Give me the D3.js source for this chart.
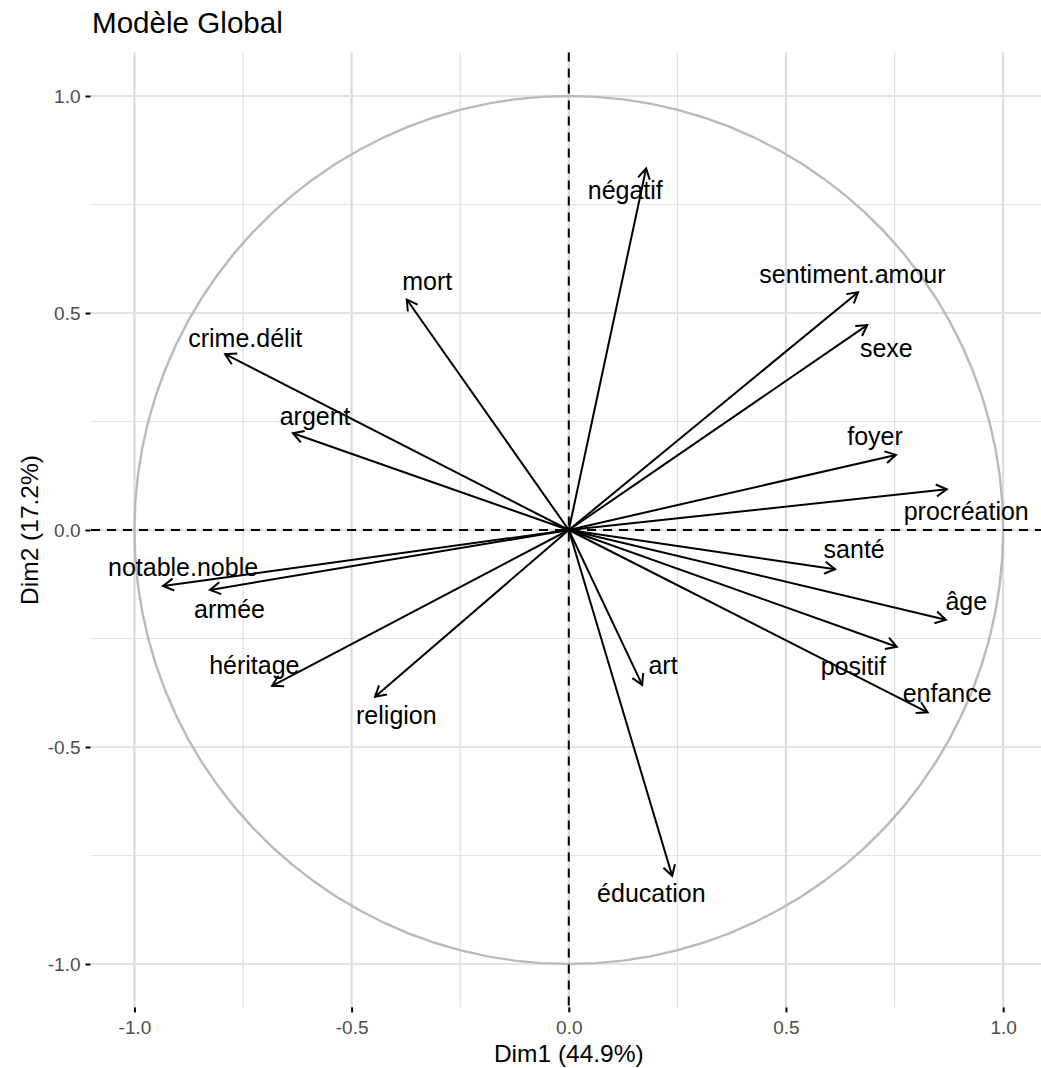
<!DOCTYPE html>
<html>
<head>
<meta charset="utf-8">
<script src="https://cdn.jsdelivr.net/npm/d3@7"></script>
<style>
  html, body { margin: 0; padding: 0; background: #fff; }
  svg { display: block; font-family: "Liberation Sans", Arial, Helvetica, sans-serif; }
</style>
</head>
<body>
<script>
// ---- data ----
const variables = ["négatif","mort","sentiment.amour","sexe","crime.délit","argent","foyer","procréation",
  "notable.noble","armée","santé","âge","positif","enfance","héritage","religion","art","éducation"];
const dim1 = [0.178,-0.373,0.666,0.687,-0.791,-0.635,0.753,0.870,
  -0.934,-0.826,0.613,0.868,0.755,0.826,-0.683,-0.446,0.169,0.238];
const dim2 = [0.833,0.531,0.548,0.472,0.405,0.223,0.173,0.0937,
  -0.129,-0.138,-0.0905,-0.207,-0.269,-0.420,-0.359,-0.384,-0.357,-0.797];
// repelled label anchor (data units)
const labelX = [0.130,-0.326,0.653,0.731,-0.745,-0.584,0.705,0.915,
  -0.888,-0.781,0.657,0.915,0.655,0.871,-0.724,-0.397,0.217,0.190];
const labelY = [0.783,0.574,0.589,0.418,0.441,0.262,0.216,0.043,
  -0.086,-0.183,-0.045,-0.164,-0.314,-0.375,-0.311,-0.427,-0.311,-0.836];
const tickValues = [-1.0,-0.5,0.0,0.5,1.0];
const minorValues = [-0.75,-0.25,0.25,0.75];
const title = "Modèle Global";
const xTitle = "Dim1 (44.9%)";
const yTitle = "Dim2 (17.2%)";

// ---- layout ----
const W = 1041, H = 1068;
const panel = {left: 91, right: 1046.6, top: 52.6, bottom: 1007.4};
const x = d3.scaleLinear().domain([-1.1, 1.1]).range([panel.left, panel.right]);
const y = d3.scaleLinear().domain([-1.1, 1.1]).range([panel.bottom, panel.top]);

const svg = d3.select("body").append("svg").attr("width", W).attr("height", H);
svg.append("rect").attr("width", W).attr("height", H).attr("fill", "#fff");

const g = svg.append("g");

// grid
const grid = g.append("g");
grid.selectAll(".vmin").data(minorValues).join("line")
  .attr("x1", d => x(d)).attr("x2", d => x(d)).attr("y1", panel.top).attr("y2", panel.bottom)
  .attr("stroke", "#dedede").attr("stroke-width", 1.2);
grid.selectAll(".hmin").data(minorValues).join("line")
  .attr("y1", d => y(d)).attr("y2", d => y(d)).attr("x1", panel.left).attr("x2", panel.right)
  .attr("stroke", "#e3e3e3").attr("stroke-width", 1.2);
grid.selectAll(".vmaj").data(tickValues).join("line")
  .attr("x1", d => x(d)).attr("x2", d => x(d)).attr("y1", panel.top).attr("y2", panel.bottom)
  .attr("stroke", "#dcdcdc").attr("stroke-width", 2.2);
grid.selectAll(".hmaj").data(tickValues).join("line")
  .attr("y1", d => y(d)).attr("y2", d => y(d)).attr("x1", panel.left).attr("x2", panel.right)
  .attr("stroke", "#e3e3e3").attr("stroke-width", 2.2);

// circle
const circ = d3.range(0, 101).map(i => {
  const t = 2 * Math.PI * i / 100;
  return [Math.cos(t), Math.sin(t)];
});
g.append("path")
  .attr("d", d3.line().x(d => x(d[0])).y(d => y(d[1]))(circ))
  .attr("fill", "none").attr("stroke", "#bababa").attr("stroke-width", 2.4);

// dashed axes
g.append("line").attr("x1", panel.left).attr("x2", panel.right).attr("y1", y(0)).attr("y2", y(0))
  .attr("stroke", "#000").attr("stroke-width", 2).attr("stroke-dasharray", "9,7");
g.append("line").attr("x1", x(0)).attr("x2", x(0)).attr("y1", panel.top).attr("y2", panel.bottom)
  .attr("stroke", "#000").attr("stroke-width", 2).attr("stroke-dasharray", "9,7");

// arrows
const arrows = g.append("g");
variables.forEach((v, i) => {
  const x0 = x(0), y0 = y(0), x1 = x(dim1[i]), y1 = y(dim2[i]);
  const ang = Math.atan2(y1 - y0, x1 - x0);
  const L = 12, a = Math.PI / 6;
  const p1 = [x1 - L * Math.cos(ang - a), y1 - L * Math.sin(ang - a)];
  const p2 = [x1 - L * Math.cos(ang + a), y1 - L * Math.sin(ang + a)];
  arrows.append("line").attr("x1", x0).attr("y1", y0).attr("x2", x1).attr("y2", y1)
    .attr("stroke", "#000").attr("stroke-width", 2);
  arrows.append("path").attr("d", `M${p1[0]},${p1[1]}L${x1},${y1}L${p2[0]},${p2[1]}`)
    .attr("fill", "none").attr("stroke", "#000").attr("stroke-width", 2)
    .attr("stroke-linejoin", "miter").attr("stroke-linecap", "butt");
});

// labels
const fs = 25;
g.append("g").selectAll("text").data(variables).join("text")
  .attr("x", (d, i) => x(labelX[i]))
  .attr("y", (d, i) => y(labelY[i]) + 0.35 * fs)
  .attr("text-anchor", "middle")
  .attr("font-size", fs).attr("fill", "#000")
  .text(d => d);

// axes
const xAxis = d3.axisBottom(x).tickValues(tickValues).tickFormat(d3.format(".1f")).tickSize(5).tickPadding(8);
const yAxis = d3.axisLeft(y).tickValues(tickValues).tickFormat(d3.format(".1f")).tickSize(5).tickPadding(5);
const ax = svg.append("g").attr("transform", `translate(0,${panel.bottom})`).call(xAxis);
const ay = svg.append("g").attr("transform", `translate(${panel.left - 0.5},0)`).call(yAxis);
[ax, ay].forEach(a => {
  a.select(".domain").remove();
  a.selectAll(".tick line").attr("stroke", "#000").attr("stroke-width", 2);
  a.selectAll(".tick text").attr("fill", "#4d4d4d").attr("font-size", 19)
    .attr("font-family", "\"Liberation Sans\", Arial, sans-serif")
    .text(d => d3.format(".1f")(d).replace("−", "-"));
});
ax.selectAll(".tick text").attr("dy", "0.71em");
ay.selectAll(".tick text").attr("dy", "0.35em");

// titles
svg.append("text").attr("x", 92).attr("y", 33).attr("font-size", 29.6).attr("fill", "#000").text(title);
svg.append("text").attr("x", (panel.left + panel.right) / 2).attr("y", 1062)
  .attr("text-anchor", "middle").attr("font-size", 24.5).attr("fill", "#000").text(xTitle);
svg.append("text").attr("transform", `translate(38,${y(0)}) rotate(-90)`)
  .attr("text-anchor", "middle").attr("font-size", 24.5).attr("fill", "#000").text(yTitle);
</script>
</body>
</html>
